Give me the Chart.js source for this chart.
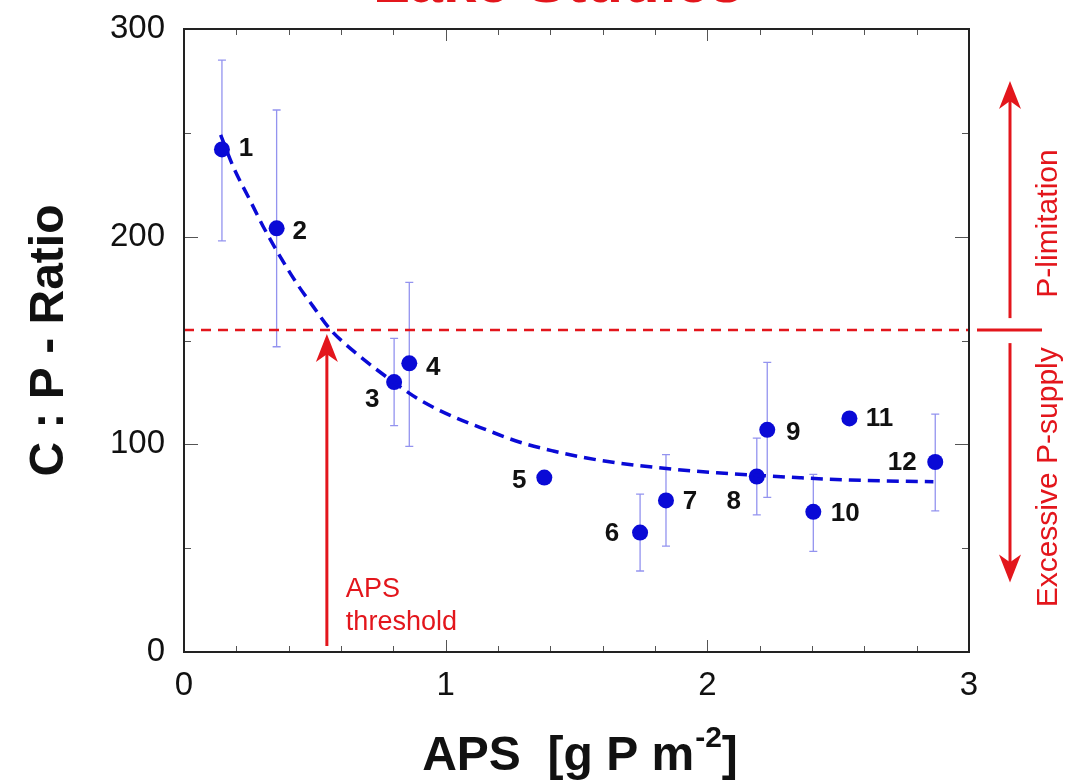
<!DOCTYPE html>
<html><head><meta charset="utf-8">
<script src="https://cdn.jsdelivr.net/npm/chart.js@4.4.0/dist/chart.umd.min.js"></script>
<style>html,body{margin:0;padding:0;background:#fff;overflow:hidden}</style>
</head><body>
<canvas id="c" width="1083" height="782"></canvas>
<script>
const titleText = 'Lake Studies';
const siteLabels = ['1','2','3','4','5','6','7','8','9','10','11','12'];
const apsValues = [0.145, 0.354, 0.803, 0.861, 1.377, 1.743, 1.842, 2.189, 2.229, 2.405, 2.543, 2.871];
const cpRatio   = [242, 204, 130, 139, 84, 57.5, 73, 84.5, 107, 67.5, 112.5, 91.5];
const errHigh   = [285, 261, 151, 178, null, 76, 95, 103, 139.5, 85.5, null, 114.5];
const errLow    = [198, 147, 109, 99, null, 39, 51, 66, 74.5, 48.5, null, 68];
const fitAps    = [0.140, 0.188, 0.252, 0.303, 0.367, 0.431, 0.494, 0.558, 0.647, 0.825, 0.902, 1.029, 1.157, 1.284, 1.411, 1.539, 1.666, 1.870, 2.036, 2.189, 2.354, 2.546, 2.864];
const fitRatio  = [249, 233.7, 217.6, 204.8, 190.5, 177.5, 166.3, 155.5, 145, 127.8, 121.3, 113.3, 106.9, 101, 96.8, 93.4, 90.9, 88.0, 86.3, 85.1, 83.9, 82.8, 82.0];
const thresholdRatio = 155;
const thresholdAps = 0.546;
const xTickValues = [0, 1, 2, 3];
const yTickValues = [0, 100, 200, 300];
const xMinorStep = 0.2, yMinorStep = 50;
const upperZoneTop = 275, lowerZoneBottom = 33.5;
const zoneLabels = ['P-limitation', 'Excessive P-supply'];
const thresholdLabel = ['APS', 'threshold'];
const xTitleParts = ['APS  [g P m', '-2', ']'];
const yTitle = 'C : P - Ratio';

// label offsets in px (style)
const labelOffsets = [[24,-2],[23,2],[-22,17],[24,3],[-25,2],[-28,0],[24,0],[-23,24],[26,2],[32,1],[30,-1],[-33,0]];

const FONT = '"Liberation Sans", Arial, Helvetica, sans-serif';
const BLUE = '#0a0ad6';
const RED = '#e3161c';

function drawArrow(ctx, x, yFrom, yTip, color) {
  const dir = yTip < yFrom ? -1 : 1;
  const hl = 28, hw = 11;
  ctx.save();
  ctx.strokeStyle = color; ctx.fillStyle = color; ctx.lineWidth = 3;
  ctx.beginPath(); ctx.moveTo(x, yFrom); ctx.lineTo(x, yTip - dir * hl * 0.6); ctx.stroke();
  ctx.beginPath();
  ctx.moveTo(x, yTip);
  ctx.lineTo(x - hw, yTip - dir * hl);
  ctx.lineTo(x, yTip - dir * hl * 0.72);
  ctx.lineTo(x + hw, yTip - dir * hl);
  ctx.closePath(); ctx.fill();
  ctx.restore();
}

const annot = {
  id: 'annot',
  beforeDatasetsDraw(chart) {
    const {ctx} = chart; const xs = chart.scales.x, ys = chart.scales.y;
    ctx.save();
    ctx.strokeStyle = 'rgba(120,120,235,0.8)'; ctx.lineWidth = 1.3;
    apsValues.forEach((v, i) => {
      if (errHigh[i] == null) return;
      const x = xs.getPixelForValue(v);
      const y1 = ys.getPixelForValue(errHigh[i]);
      const y2 = ys.getPixelForValue(errLow[i]);
      ctx.beginPath();
      ctx.moveTo(x, y1); ctx.lineTo(x, y2);
      ctx.moveTo(x - 4, y1); ctx.lineTo(x + 4, y1);
      ctx.moveTo(x - 4, y2); ctx.lineTo(x + 4, y2);
      ctx.stroke();
    });
    ctx.restore();
  },
  afterDatasetsDraw(chart) {
    const {ctx, chartArea: ca} = chart; const xs = chart.scales.x, ys = chart.scales.y;
    ctx.save();
    ctx.font = 'bold 26px ' + FONT; ctx.fillStyle = '#111';
    ctx.textAlign = 'center'; ctx.textBaseline = 'middle';
    apsValues.forEach((v, i) => {
      const x = xs.getPixelForValue(v) + labelOffsets[i][0];
      const y = ys.getPixelForValue(cpRatio[i]) + labelOffsets[i][1];
      ctx.fillText(siteLabels[i], x, y + 1);
    });
    const ax = xs.getPixelForValue(thresholdAps);
    drawArrow(ctx, ax, ys.getPixelForValue(0) - 6, ys.getPixelForValue(thresholdRatio) + 4, RED);
    ctx.font = '27px ' + FONT; ctx.fillStyle = RED; ctx.textAlign = 'left'; ctx.textBaseline = 'alphabetic';
    ctx.fillText(thresholdLabel[0], ax + 19, ca.bottom - 55);
    ctx.fillText(thresholdLabel[1], ax + 19, ca.bottom - 22);
    ctx.restore();
  },
  afterDraw(chart) {
    const {ctx, chartArea: ca} = chart; const xs = chart.scales.x, ys = chart.scales.y;
    ctx.save();
    ctx.strokeStyle = '#555'; ctx.lineWidth = 1;
    ctx.beginPath();
    for (let k = 0; k <= 15; k++) {
      const v = k * xMinorStep; const x = Math.round(xs.getPixelForValue(v)) + 0.5;
      const len = (k % 5 === 0) ? 12 : 6;
      ctx.moveTo(x, ca.bottom); ctx.lineTo(x, ca.bottom - len);
      ctx.moveTo(x, ca.top); ctx.lineTo(x, ca.top + len);
    }
    for (let k = 0; k <= 6; k++) {
      const v = k * yMinorStep; const y = Math.round(ys.getPixelForValue(v)) + 0.5;
      const len = (k % 2 === 0) ? 14 : 7;
      ctx.moveTo(ca.left, y); ctx.lineTo(ca.left + len, y);
      ctx.moveTo(ca.right, y); ctx.lineTo(ca.right - len, y);
    }
    ctx.stroke();
    ctx.strokeStyle = '#222'; ctx.lineWidth = 2;
    ctx.strokeRect(ca.left, ca.top, ca.right - ca.left, ca.bottom - ca.top);

    const yT = ys.getPixelForValue(thresholdRatio);
    const rx = ca.right + 41;
    ctx.strokeStyle = RED; ctx.lineWidth = 3;
    ctx.beginPath(); ctx.moveTo(ca.right + 8, yT); ctx.lineTo(ca.right + 73, yT); ctx.stroke();
    drawArrow(ctx, rx, yT - 12, ys.getPixelForValue(upperZoneTop), RED);
    drawArrow(ctx, rx, yT + 13, ys.getPixelForValue(lowerZoneBottom), RED);
    ctx.font = '30px ' + FONT; ctx.fillStyle = RED; ctx.textAlign = 'center'; ctx.textBaseline = 'middle';
    ctx.save(); ctx.translate(ca.right + 80, (ys.getPixelForValue(upperZoneTop) + yT) / 2 + 18); ctx.rotate(-Math.PI / 2);
    ctx.fillText(zoneLabels[0], 0, 0); ctx.restore();
    ctx.save(); ctx.translate(ca.right + 80, (ys.getPixelForValue(lowerZoneBottom) + yT) / 2 + 21); ctx.rotate(-Math.PI / 2);
    ctx.fillText(zoneLabels[1], 0, 0); ctx.restore();

    ctx.fillStyle = '#111'; ctx.textBaseline = 'alphabetic'; ctx.textAlign = 'left';
    const f1 = 'bold 48px ' + FONT, f2 = 'bold 30px ' + FONT;
    ctx.font = f1; const w1 = ctx.measureText(xTitleParts[0]).width; const w3 = ctx.measureText(xTitleParts[2]).width;
    ctx.font = f2; const w2 = ctx.measureText(xTitleParts[1]).width;
    const cx = (ca.left + ca.right) / 2 + 3;
    let sx = cx - (w1 + w2 + w3) / 2; const by = 770;
    ctx.font = f1; ctx.fillText(xTitleParts[0], sx, by); sx += w1 + 1;
    ctx.font = f2; ctx.fillText(xTitleParts[1], sx, by - 23); sx += w2;
    ctx.font = f1; ctx.fillText(xTitleParts[2], sx, by);

    ctx.font = 'bold 60px ' + FONT; ctx.fillStyle = RED; ctx.textAlign = 'center'; ctx.textBaseline = 'alphabetic';
    ctx.fillText(titleText, 558, 1.5);
    ctx.restore();
  }
};

new Chart(document.getElementById('c'), {
  type: 'scatter',
  data: {
    datasets: [
      {
        type: 'line',
        data: fitAps.map((x, i) => ({x, y: fitRatio[i]})),
        borderColor: BLUE, borderWidth: 3.5, borderDash: [12, 7],
        pointRadius: 0, fill: false, cubicInterpolationMode: 'monotone'
      },
      {
        data: apsValues.map((x, i) => ({x, y: cpRatio[i]})),
        backgroundColor: BLUE, borderColor: BLUE, borderWidth: 0, pointRadius: 8
      },
      {
        type: 'line',
        data: [{x: 0, y: thresholdRatio}, {x: 3, y: thresholdRatio}],
        borderColor: RED, borderWidth: 2.5, borderDash: [10, 7],
        pointRadius: 0, fill: false
      }
    ]
  },
  options: {
    responsive: false, animation: false, devicePixelRatio: 1,
    layout: {padding: {left: 0, top: 29, right: 114, bottom: 0}},
    plugins: {legend: {display: false}, tooltip: {enabled: false}},
    scales: {
      x: {
        type: 'linear', min: 0, max: 3,
        grid: {display: false, drawTicks: false}, border: {display: false},
        ticks: {stepSize: 1, maxRotation: 0, padding: 14, color: '#111', font: {size: 33, family: FONT},
          callback: (v) => xTickValues.includes(v) ? String(v) : ''},
        afterFit: (s) => { s.height = 130; s.paddingLeft = 0; s.paddingRight = 0; }
      },
      y: {
        type: 'linear', min: 0, max: 300,
        grid: {display: false, drawTicks: false}, border: {display: false},
        ticks: {stepSize: 100, padding: 19, color: '#111', font: {size: 33, family: FONT},
          callback: (v) => yTickValues.includes(v) ? String(v) : ''},
        title: {display: true, text: yTitle, color: '#111', font: {size: 48, weight: 'bold', family: FONT}, padding: {top: 21, bottom: 0}},
        afterFit: (s) => { s.width = 184; s.paddingTop = 0; s.paddingBottom = 0; }
      }
    }
  },
  plugins: [annot]
});
</script>
</body></html>
